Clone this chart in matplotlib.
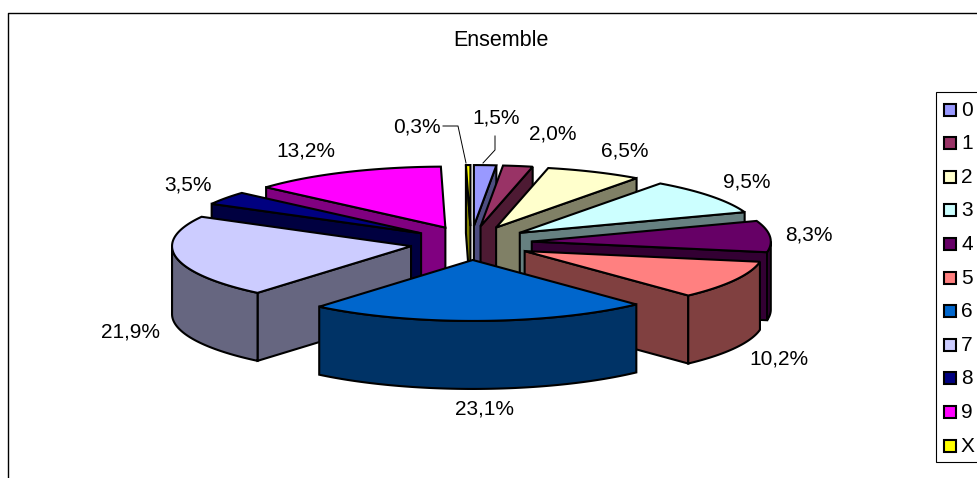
import numpy as np
import matplotlib
matplotlib.use('Agg')
import matplotlib.pyplot as plt
from matplotlib.patches import Polygon, Rectangle
from matplotlib.colors import to_rgb

plt.rcParams['font.family'] = ['Liberation Sans', 'DejaVu Sans']

# Data
categories = ['0', '1', '2', '3', '4', '5', '6', '7', '8', '9', 'X']
values = [1.5, 2.0, 6.5, 9.5, 8.3, 10.2, 23.1, 21.9, 3.5, 13.2, 0.3]
colors = ['#9999FF', '#993366', '#FFFFCC', '#CCFFFF', '#660066', '#FF8080',
          '#0066CC', '#CCCCFF', '#000080', '#FF00FF', '#FFFF00']
title = 'Ensemble'

# Label centres in pixels, same order as the categories
label_pos = [(496, 118), (553, 134), (625, 151), (747, 182), (809, 235), (779, 359),
             (485, 409), (131, 332), (188, 185), (306, 151), (417, 127)]

# Pie geometry in pixels
CX, CY = 471, 243
RADIUS = 239
TILT = 0.255
EXPLODE = 61
EXPLODE_Y = 17
DEPTH = 68
LW = 1.5


def project(theta, radius, origin):
    """Angle in degrees, clockwise from the top of the pie -> pixel coordinates."""
    t = np.radians(theta)
    return origin[0] + radius * np.sin(t), origin[1] - TILT * radius * np.cos(t)


def arc(theta1, theta2, origin):
    angles = np.linspace(theta1, theta2, max(int(theta2 - theta1) * 2, 2))
    x, y = project(angles, RADIUS, origin)
    return np.column_stack([x, y])


def wall(ax, top_points, color, zorder):
    bottom = top_points[::-1] + np.array([0, DEPTH])
    ax.add_patch(Polygon(np.vstack([top_points, bottom]), closed=True, facecolor=color,
                         edgecolor='black', linewidth=LW, joinstyle='miter', zorder=zorder))


fig = plt.figure(figsize=(9.78, 4.78), dpi=100)
ax = fig.add_axes([0, 0, 1, 1])
ax.set_xlim(0, 978)
ax.set_ylim(478, 0)
ax.axis('off')

# Chart frame, cut by the right and bottom edges of the picture
ax.plot([8, 8, 978], [478, 13, 13], color='black', linewidth=1.0)

ax.text(501, 40, title, fontsize=15.5, ha='center', va='center')

edges = np.concatenate([[0], np.cumsum(values)]) * 360 / sum(values)
mids = (edges[:-1] + edges[1:]) / 2

# Painter's order: slices at the back first
order = np.argsort(-np.cos(np.radians(mids)))
for z, i in enumerate(order):
    t1, t2 = edges[i], edges[i + 1]
    mid = np.radians(mids[i])
    apex = np.array([CX + EXPLODE * np.sin(mid), CY - EXPLODE_Y * np.cos(mid)])
    side = tuple(c * 0.5 for c in to_rgb(colors[i]))
    base = 10 + z * 5

    # Radial walls turned towards the viewer
    if np.cos(np.radians(t1 - 90)) < 0:
        wall(ax, np.vstack([apex, arc(t1, t1 + 0.01, apex)[:1]]), side, base)
    if np.cos(np.radians(t2 + 90)) < 0:
        wall(ax, np.vstack([apex, arc(t2, t2 + 0.01, apex)[:1]]), side, base)

    # Outer wall, front half only
    a1, a2 = max(t1, 90), min(t2, 270)
    if a1 < a2:
        wall(ax, arc(a1, a2, apex), side, base + 1)

    top = np.vstack([apex, arc(t1, t2, apex)])
    ax.add_patch(Polygon(top, closed=True, facecolor=colors[i], edgecolor='black',
                         linewidth=LW, joinstyle='miter', zorder=base + 2))

# Percent labels
for v, (x, y) in zip(values, label_pos):
    ax.text(x, y, f'{v:.1f}%'.replace('.', ','), fontsize=15, ha='center', va='center', zorder=100)

# Leader lines of the two thin slices
ax.plot([443, 458, 466], [126, 126, 163], color='black', linewidth=0.7, zorder=99)
ax.plot([495, 495, 483], [136, 150, 163], color='black', linewidth=0.7, zorder=99)

# Legend
ax.add_patch(Rectangle((936, 92), 60, 370, facecolor='white', edgecolor='black', linewidth=0.8, zorder=100))
for n, (name, color) in enumerate(zip(categories, colors)):
    y = 109.5 + n * 33.6
    ax.add_patch(Rectangle((943.5, y - 6), 12, 12, facecolor=color, edgecolor='black',
                           linewidth=1.5, zorder=101))
    ax.text(961, y + 0.5, name, fontsize=15, ha='left', va='center', zorder=101)

fig.savefig('out.png', dpi=100)
